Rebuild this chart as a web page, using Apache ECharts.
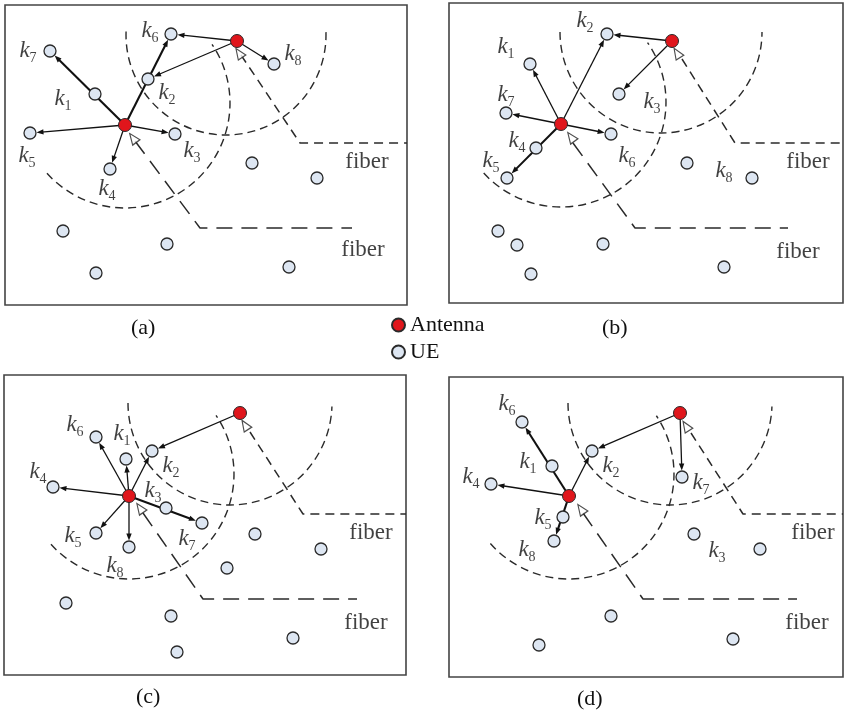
<!DOCTYPE html>
<html>
<head>
<meta charset="utf-8">
<script src="https://cdn.jsdelivr.net/npm/echarts@6/dist/echarts.min.js"></script>
<style>html,body{margin:0;padding:0;background:#fff}#c{width:844px;height:718px}</style>
</head>
<body>
<div id="c"></div>
<script>
// ---------- DATA (local panel coordinates, y downwards) ----------
const captions = ['(a)', '(b)', '(c)', '(d)'];
const legendNames = ['Antenna', 'UE'];

// panel (a)
const antennas_a = [[120, 120], [232, 36]];
const ues_a = [[90, 89, 'k1'], [143, 74, 'k2'], [170, 129, 'k3'], [105, 164, 'k4'], [25, 128, 'k5'], [166, 29, 'k6'], [45, 46, 'k7'], [269, 59, 'k8'],
  [247, 158, ''], [312, 173, ''], [58, 226, ''], [162, 239, ''], [91, 268, ''], [284, 262, '']];
const labels_a = [[58, 95, 'k1'], [162, 89, 'k2'], [187, 147, 'k3'], [102, 185, 'k4'], [22, 152, 'k5'], [145, 27, 'k6'], [23, 47, 'k7'], [288, 50, 'k8'], [362, 157, 'fiber'], [358, 245, 'fiber']];
const arrows_a = [[0, 'k7', 2.1], [0, 'k6', 2.1], [0, 'k5', 1.3], [0, 'k3', 1.3], [0, 'k4', 1.3], [1, 'k6', 1.3], [1, 'k2', 1.3], [1, 'k8', 1.3]];
const fiber1_a = [[130, 136], [195, 223], [347, 223]];
const fiber2_a = [[236, 50], [295, 138], [402, 138]];
const tri_a = [[128, 133], [234, 48]];
const arcs_a = [[120, 98, 105, 222, 394], [221, 30, 100, 178, 362]];

// panel (b)
const antennas_b = [[112, 121], [223, 38]];
const ues_b = [[81, 61, 'k1'], [158, 31, 'k2'], [170, 91, 'k3'], [87, 145, 'k4'], [58, 175, 'k5'], [162, 131, 'k6'], [57, 110, 'k7'], [303, 175, 'k8'],
  [238, 160, ''], [49, 228, ''], [68, 242, ''], [82, 271, ''], [154, 241, ''], [275, 264, '']];
const labels_b = [[57, 45, 'k1'], [136, 19, 'k2'], [203, 100, 'k3'], [68, 139, 'k4'], [42, 159, 'k5'], [178, 154, 'k6'], [57, 93, 'k7'], [275, 169, 'k8'], [359, 159, 'fiber'], [349, 249, 'fiber']];
const arrows_b = [[0, 'k1', 1.3], [0, 'k2', 1.3], [0, 'k7', 1.3], [0, 'k6', 1.3], [0, 'k5', 2.1], [1, 'k2', 1.3], [1, 'k3', 1.3]];
const fiber1_b = [[124, 140], [186, 225], [339, 225]];
const fiber2_b = [[233, 56], [286, 140], [394, 140]];
const tri_b = [[122, 134], [228, 50]];
const arcs_b = [[112, 99, 105, 222.6, 394.5], [212, 29, 101, 180, 360]];

// panel (c)
const antennas_c = [[125, 121], [236, 38]];
const ues_c = [[122, 84, 'k1'], [148, 76, 'k2'], [162, 133, 'k3'], [49, 112, 'k4'], [92, 158, 'k5'], [92, 62, 'k6'], [198, 148, 'k7'], [125, 172, 'k8'],
  [251, 159, ''], [317, 174, ''], [223, 193, ''], [62, 228, ''], [167, 241, ''], [173, 277, ''], [289, 263, '']];
const labels_c = [[118, 60, 'k1'], [167, 92, 'k2'], [149, 117, 'k3'], [34, 98, 'k4'], [69, 162, 'k5'], [71, 51, 'k6'], [183, 165, 'k7'], [111, 192, 'k8'], [367, 158, 'fiber'], [362, 248, 'fiber']];
const arrows_c = [[0, 'k6', 1.3], [0, 'k1', 1.3], [0, 'k2', 1.3], [0, 'k4', 1.3], [0, 'k7', 2.1], [0, 'k5', 1.3], [0, 'k8', 1.3], [1, 'k2', 1.3]];
const fiber1_c = [[139, 138], [199, 224], [353, 224]];
const fiber2_c = [[246, 57], [299, 139], [402, 139]];
const tri_c = [[136, 133], [241, 50]];
const arcs_c = [[125, 99, 105, 222, 394], [226, 28, 102, 180, 358]];

// panel (d)
const antennas_d = [[120, 119], [231, 36]];
const ues_d = [[103, 89, 'k1'], [143, 74, 'k2'], [245, 157, 'k3'], [42, 107, 'k4'], [114, 140, 'k5'], [73, 45, 'k6'], [233, 100, 'k7'], [105, 164, 'k8'],
  [311, 172, ''], [162, 239, ''], [90, 268, ''], [284, 262, '']];
const labels_d = [[79, 86, 'k1'], [162, 90, 'k2'], [268, 175, 'k3'], [22, 101, 'k4'], [94, 142, 'k5'], [58, 28, 'k6'], [252, 107, 'k7'], [78, 174, 'k8'], [364, 156, 'fiber'], [358, 246, 'fiber']];
const arrows_d = [[0, 'k6', 2.1], [0, 'k2', 1.3], [0, 'k4', 1.3], [0, 'k8', 2.1], [1, 'k2', 1.3], [1, 'k7', 1.3]];
const fiber1_d = [[134, 136], [194, 222], [348, 222]];
const fiber2_d = [[242, 56], [294, 137], [394, 137]];
const tri_d = [[132, 132], [237, 49]];
const arcs_d = [[120, 97, 105, 221.5, 393.7], [221, 26, 102, 180, 358]];

// ---------- LAYOUT ----------
const boxes = [
  {left: 5, top: 5, width: 402, height: 300},
  {left: 449, top: 3, width: 394, height: 300},
  {left: 4, top: 375, width: 402, height: 300},
  {left: 449, top: 377, width: 394, height: 300}
];
const captionPos = [[143, 329], [614, 329], [148, 698], [589, 700]];

const panels = [
  {ants: antennas_a, ues: ues_a, labels: labels_a, arrows: arrows_a, f1: fiber1_a, f2: fiber2_a, tri: tri_a, arcs: arcs_a},
  {ants: antennas_b, ues: ues_b, labels: labels_b, arrows: arrows_b, f1: fiber1_b, f2: fiber2_b, tri: tri_b, arcs: arcs_b},
  {ants: antennas_c, ues: ues_c, labels: labels_c, arrows: arrows_c, f1: fiber1_c, f2: fiber2_c, tri: tri_c, arcs: arcs_c},
  {ants: antennas_d, ues: ues_d, labels: labels_d, arrows: arrows_d, f1: fiber1_d, f2: fiber2_d, tri: tri_d, arcs: arcs_d}
];

const FONT = 'Liberation Serif';
const INK = '#111';
const DASH = '#2a2a2a';

function arrowItem(params, api) {
  const p1 = api.coord([api.value(0), api.value(1)]);
  const p2 = api.coord([api.value(2), api.value(3)]);
  const w = api.value(4);
  const dx = p2[0] - p1[0], dy = p2[1] - p1[1];
  const L = Math.hypot(dx, dy) || 1;
  const ux = dx / L, uy = dy / L;
  const rEnd = 6.5, hl = 7, hw = 2.7;
  const tip = [p2[0] - ux * rEnd, p2[1] - uy * rEnd];
  const base = [tip[0] - ux * hl, tip[1] - uy * hl];
  return {
    type: 'group',
    children: [
      {type: 'line', shape: {x1: p1[0], y1: p1[1], x2: base[0] + ux * 2, y2: base[1] + uy * 2}, style: {stroke: INK, lineWidth: w}},
      {type: 'polygon', shape: {points: [tip, [base[0] - uy * hw, base[1] + ux * hw], [base[0] + uy * hw, base[1] - ux * hw]]}, style: {fill: INK}}
    ]
  };
}

function arcItem(params, api) {
  const c = api.coord([api.value(0), api.value(1)]);
  const r = api.size([api.value(2), 0])[0];
  const a0 = -api.value(3) * Math.PI / 180;
  const a1 = -api.value(4) * Math.PI / 180;
  return {
    type: 'arc',
    shape: {cx: c[0], cy: c[1], r: r, startAngle: a0, endAngle: a1, clockwise: false},
    style: {stroke: DASH, fill: null, lineWidth: 1.4, lineDash: [8, 5]}
  };
}

function triRotate(seg) {
  const dx = seg[1][0] - seg[0][0], dy = seg[1][1] - seg[0][1];
  const ang = Math.atan2(-dy, dx) * 180 / Math.PI + 180; // pointing back to antenna
  return ang - 90;
}

const grids = [], xAxes = [], yAxes = [], series = [];
panels.forEach((p, i) => {
  const b = boxes[i];
  grids.push({left: b.left, top: b.top, width: b.width, height: b.height, show: true, borderColor: '#444', borderWidth: 1.6, backgroundColor: '#fff'});
  xAxes.push({type: 'value', gridIndex: i, min: 0, max: b.width, show: false});
  yAxes.push({type: 'value', gridIndex: i, min: 0, max: b.height, inverse: true, show: false});
  const ax = {xAxisIndex: i, yAxisIndex: i};
  const ueMap = {};
  p.ues.forEach(u => { if (u[2]) ueMap[u[2]] = u; });

  series.push(Object.assign({type: 'custom', silent: true, z: 1, renderItem: arcItem, encode: {x: 0, y: 1}, data: p.arcs, clip: false}, ax));
  series.push(Object.assign({type: 'line', silent: true, z: 1, symbol: 'none', data: p.f1, lineStyle: {color: DASH, width: 1.5, type: [16, 9]}}, ax));
  series.push(Object.assign({type: 'line', silent: true, z: 1, symbol: 'none', data: p.f2, lineStyle: {color: DASH, width: 1.5, type: [9, 6]}}, ax));

  const arrowData = p.arrows.map(a => {
    const s = p.ants[a[0]], t = ueMap[a[1]];
    return [s[0], s[1], t[0], t[1], a[2]];
  });
  series.push(Object.assign({type: 'custom', silent: true, z: 2, renderItem: arrowItem, encode: {x: [0, 2], y: [1, 3]}, data: arrowData, clip: false}, ax));

  const rots = [triRotate(p.f1), triRotate(p.f2)];
  series.push(Object.assign({type: 'scatter', silent: true, z: 3, symbol: 'triangle', symbolSize: [9, 11],
    data: p.tri.map((t, k) => ({value: t, symbolRotate: rots[k]})),
    itemStyle: {color: '#fff', borderColor: '#222', borderWidth: 1.2}}, ax));

  series.push(Object.assign({name: 'UE', type: 'scatter', silent: true, z: 4, symbol: 'circle', symbolSize: 12,
    data: p.ues.map(u => [u[0], u[1]]),
    itemStyle: {color: '#dde6f2', borderColor: '#2a2a2a', borderWidth: 1.3, opacity: 1}}, ax));

  series.push(Object.assign({name: 'Antenna', type: 'scatter', silent: true, z: 5, symbol: 'circle', symbolSize: 13,
    data: p.ants, itemStyle: {color: '#e0161c', borderColor: '#2a2a2a', borderWidth: 1, opacity: 1}}, ax));

  series.push(Object.assign({type: 'scatter', silent: true, z: 6, symbolSize: 1, itemStyle: {color: 'rgba(0,0,0,0)'},
    data: p.labels,
    label: {
      show: true, position: 'inside',
      formatter: prm => {
        const t = prm.data[2];
        if (t[0] === 'k') return '{k|k}{s|' + t.slice(1) + '}';
        return '{f|' + t + '}';
      },
      rich: {
        k: {fontFamily: FONT, fontStyle: 'italic', fontSize: 23, color: INK, lineHeight: 26, verticalAlign: 'top'},
        s: {fontFamily: FONT, fontSize: 14, color: INK, lineHeight: 14, verticalAlign: 'bottom'},
        f: {fontFamily: FONT, fontSize: 23, color: INK}
      }
    }}, ax));
});

const titles = captions.map((c, i) => ({
  text: c, left: captionPos[i][0] - 12, top: captionPos[i][1] - 12, padding: 0,
  textStyle: {fontFamily: FONT, fontSize: 22, fontWeight: 'normal', color: INK}
}));

const chart = echarts.init(document.getElementById('c'), null, {renderer: 'canvas'});
chart.setOption({
  animation: false,
  backgroundColor: '#fff',
  title: titles,
  legend: {
    data: legendNames, orient: 'vertical', left: 391, top: 314, padding: 0,
    itemWidth: 13, itemHeight: 13, itemGap: 5, selectedMode: false,
    textStyle: {fontFamily: FONT, fontSize: 22, color: INK}
  },
  grid: grids, xAxis: xAxes, yAxis: yAxes, series: series
});
</script>
</body>
</html>
